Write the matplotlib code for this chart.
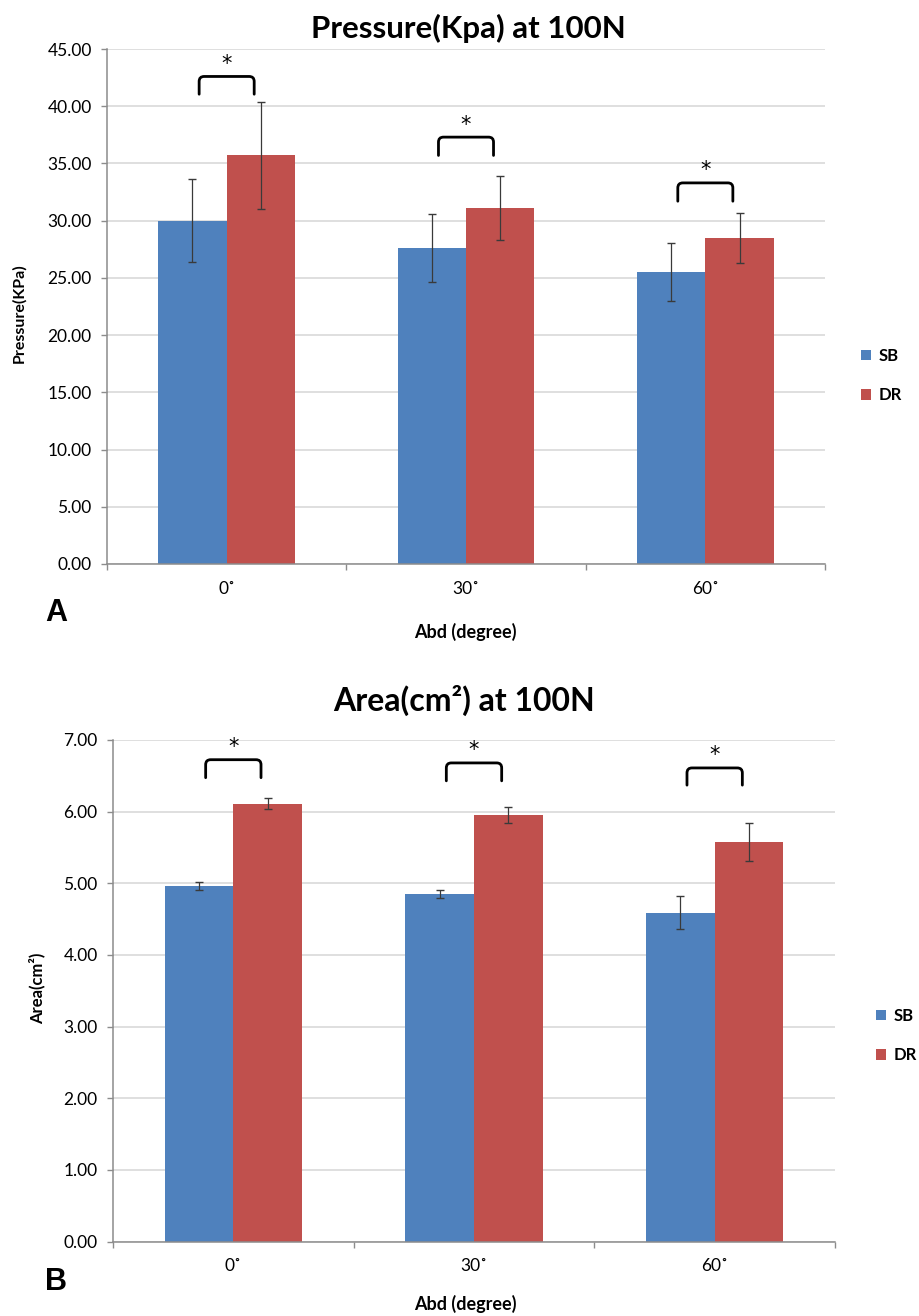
import matplotlib
matplotlib.use("Agg")
import matplotlib.pyplot as plt
import numpy as np
from matplotlib.path import Path
from matplotlib.patches import PathPatch, Patch

# ---------------- data ----------------
categories = ["0˚", "30˚", "60˚"]
series = ["SB", "DR"]

pressure_sb = [30.0, 27.6, 25.5]
pressure_sb_err = [3.65, 2.95, 2.55]
pressure_dr = [35.7, 31.1, 28.5]
pressure_dr_err = [4.7, 2.8, 2.2]

area_sb = [4.96, 4.85, 4.59]
area_sb_err = [0.06, 0.055, 0.23]
area_dr = [6.11, 5.95, 5.58]
area_dr_err = [0.075, 0.115, 0.265]

# significance brackets (top level, leg bottom level)
pressure_bracket_top = [42.6, 37.3, 33.3]
pressure_bracket_leg = [41.05, 35.7, 31.7]
area_bracket_top = [6.725, 6.68, 6.61]
area_bracket_leg = [6.474, 6.43, 6.37]

pressure_ticks = [0, 5, 10, 15, 20, 25, 30, 35, 40, 45]
area_ticks = [0, 1, 2, 3, 4, 5, 6, 7]

# ---------------- style ----------------
BLUE = "#4F81BD"
RED = "#C0504D"
GRID = "#D9D9D9"
SPINE = "#8C8C8C"
FONT = "Lato"

W, H = 919, 1316
fig = plt.figure(figsize=(W / 100, H / 100), dpi=100)
plt.rcParams["font.family"] = [FONT, "DejaVu Sans"]


def fx(px):
    return px / W


def fy(py):
    return 1 - py / H


def bracket(ax, x0, x1, ytop, ybot, rpx=5):
    t = ax.transData
    ppx = t.transform((1, 0))[0] - t.transform((0, 0))[0]
    ppy = t.transform((0, 1))[1] - t.transform((0, 0))[1]
    rx = rpx / ppx
    ry = rpx / ppy
    verts = [(x0, ybot), (x0, ytop - ry), (x0, ytop), (x0 + rx, ytop),
             (x1 - rx, ytop), (x1, ytop), (x1, ytop - ry), (x1, ybot)]
    codes = [Path.MOVETO, Path.LINETO, Path.CURVE3, Path.CURVE3,
             Path.LINETO, Path.CURVE3, Path.CURVE3, Path.LINETO]
    ax.add_patch(PathPatch(Path(verts, codes), fill=False, lw=2.0,
                           edgecolor="black", capstyle="round", zorder=5))
    ax.annotate("*", xy=((x0 + x1) / 2, ytop), xytext=(0, 9),
                textcoords="offset points", ha="center", va="center",
                fontsize=15, color="black", family="DejaVu Sans", zorder=6)


def panel(rect, sb, sb_err, dr, dr_err, ticks, ymax, b_top, b_leg):
    ax = fig.add_axes(rect)
    x = np.arange(len(categories))
    w = 0.286
    ax.bar(x - w / 2, sb, w, color=BLUE, zorder=3)
    ax.bar(x + w / 2, dr, w, color=RED, zorder=3)
    ekw = dict(fmt="none", ecolor="#3a3a3a", elinewidth=0.9, capsize=2.6,
               capthick=1.0, zorder=4)
    ax.errorbar(x - w / 2, sb, yerr=sb_err, **ekw)
    ax.errorbar(x + w / 2, dr, yerr=dr_err, **ekw)
    ax.set_xlim(-0.5, len(categories) - 0.5)
    ax.set_ylim(0, ymax)
    ax.set_yticks(ticks)
    ax.set_yticklabels([f"{t:.2f}" for t in ticks], fontsize=12.5)
    ax.set_xticks(x)
    ax.set_xticklabels(categories, fontsize=12.5)
    ax.set_xticks(np.arange(len(categories) + 1) - 0.5, minor=True)
    ax.tick_params(axis="x", which="major", length=0, pad=12)
    ax.tick_params(axis="x", which="minor", length=4.5, color=SPINE, width=1)
    ax.tick_params(axis="y", length=4, color=SPINE, width=1, pad=7)
    ax.grid(axis="y", color=GRID, lw=1.2, zorder=0)
    ax.set_axisbelow(True)
    for s in ["top", "right"]:
        ax.spines[s].set_visible(False)
    for s in ["left", "bottom"]:
        ax.spines[s].set_color(SPINE)
        ax.spines[s].set_linewidth(1.1)
    ax.spines["bottom"].set_zorder(4)
    bw = 0.115
    for i in range(len(categories)):
        bracket(ax, x[i] - bw, x[i] + bw, b_top[i], b_leg[i])
    return ax


# top panel
ax1 = panel([fx(107), fy(564), fx(825 - 107), (564 - 49) / H],
            pressure_sb, pressure_sb_err, pressure_dr, pressure_dr_err,
            pressure_ticks, 45, pressure_bracket_top, pressure_bracket_leg)
# bottom panel
ax2 = panel([fx(113), fy(1241.5), fx(835 - 113), (1241.5 - 740) / H],
            area_sb, area_sb_err, area_dr, area_dr_err,
            area_ticks, 7, area_bracket_top, area_bracket_leg)

# titles
fig.text(fx(468), fy(28), "Pressure(Kpa) at 100N", ha="center", va="center",
         fontsize=22.5, fontweight="bold")
fig.text(fx(464), fy(700), "Area(cm²) at 100N", ha="center", va="center",
         fontsize=23, fontweight="bold")

# axis labels
fig.text(fx(19), fy(313), "Pressure(KPa)", rotation=90, ha="center",
         va="center", fontsize=11.5, fontweight="bold")
fig.text(fx(37), fy(988), "Area(cm²)", rotation=90, ha="center",
         va="center", fontsize=12, fontweight="bold")
fig.text(fx(465), fy(632), "Abd (degree)", ha="center", va="center",
         fontsize=13, fontweight="bold")
fig.text(fx(465), fy(1304), "Abd (degree)", ha="center", va="center",
         fontsize=13, fontweight="bold")

# panel letters
fig.text(fx(45), fy(613), "A", ha="left", va="center", fontsize=22,
         fontweight="bold", family="Liberation Sans")
fig.text(fx(45), fy(1282), "B", ha="left", va="center", fontsize=22,
         fontweight="bold", family="Liberation Sans")

# legends
handles = [Patch(facecolor=BLUE), Patch(facecolor=RED)]
for ax, lx, ly in [(ax1, 861, 375.5), (ax2, 876, 1035.5)]:
    leg = ax.legend(handles, series, loc="center left",
                    bbox_to_anchor=(fx(lx), fy(ly)),
                    bbox_transform=fig.transFigure, frameon=False,
                    handlelength=0.6, handleheight=0.6, handletextpad=0.45,
                    labelspacing=1.4, borderaxespad=0, borderpad=0,
                    prop=dict(family=FONT, weight="bold", size=12))

fig.savefig("out.png", dpi=100)
